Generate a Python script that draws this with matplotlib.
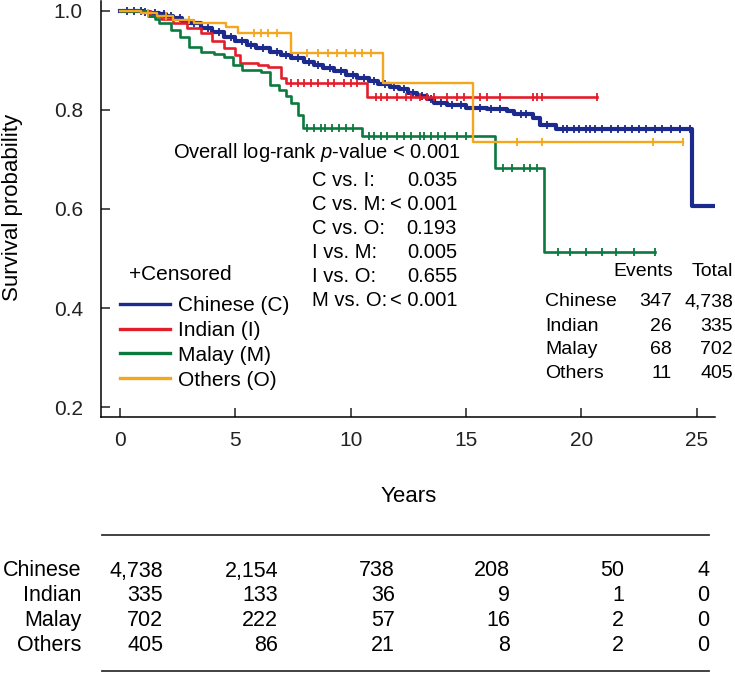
import numpy as np
import matplotlib
matplotlib.use("Agg")
import matplotlib.pyplot as plt
from matplotlib.lines import Line2D

plt.rcParams['font.family'] = ['Liberation Sans', 'DejaVu Sans']
plt.rcParams['mathtext.fontset'] = 'custom'
plt.rcParams['mathtext.rm'] = 'Liberation Sans'
plt.rcParams['mathtext.it'] = 'Liberation Sans:italic'

# Kaplan-Meier step data (years, survival)
times_c = [0, 0.5, 1.0, 1.3, 1.7, 2.0, 2.3, 2.7, 3.0, 3.5, 4.0, 4.5, 5.0, 5.5, 5.9, 6.5, 7.0, 7.4, 8.0, 8.4,
           8.8, 9.3, 9.8, 10.3, 10.8, 11.2, 11.7, 12.1, 12.5, 12.9, 13.3, 13.6, 14.2, 15.0, 15.9, 16.8, 17.1, 17.9, 18.2, 18.9, 24.8]
surv_c = [1.0, 0.999, 0.998, 0.996, 0.993, 0.99, 0.986, 0.98, 0.975, 0.966, 0.957, 0.948, 0.94, 0.932, 0.925, 0.918, 0.911, 0.905, 0.897, 0.891,
          0.885, 0.878, 0.871, 0.865, 0.859, 0.853, 0.847, 0.842, 0.835, 0.828, 0.822, 0.815, 0.81, 0.804, 0.801, 0.798, 0.792, 0.784, 0.77, 0.762, 0.607]
end_c = 25.8
cens_c = [0.3, 0.6, 0.9, 1.1, 1.5, 1.9, 2.2, 2.6, 3.2, 3.8, 4.3, 4.8, 5.3, 5.7, 6.2, 6.8, 7.2, 7.7, 8.2, 8.6, 9.1, 9.6,
          10.1, 10.6, 11.0, 11.5, 11.9, 12.3, 12.7, 13.1, 13.5, 13.9, 14.4, 14.8, 15.3, 15.6, 16.1, 16.5, 17.4, 17.6, 18.5,
          19.2, 19.4, 19.7, 19.9, 20.2, 20.4, 20.6, 20.9, 21.3, 21.6, 21.9, 22.2, 22.5, 22.8, 23.2, 23.5, 23.9, 24.3, 24.7]

times_i = [0, 1.3, 1.8, 2.3, 2.9, 3.5, 4.0, 4.5, 5.0, 5.2, 6.0, 6.4, 7.0, 7.2, 10.7]
surv_i = [1.0, 0.99, 0.983, 0.976, 0.966, 0.956, 0.94, 0.925, 0.91, 0.895, 0.89, 0.887, 0.865, 0.855, 0.827]
end_i = 20.7
cens_i = [7.4, 7.7, 8.0, 8.3, 8.6, 9.0, 9.3, 9.7, 10.0, 10.3, 11.1, 11.3, 11.6, 12.0, 12.4, 12.6, 13.0, 13.3, 13.6,
          14.2, 14.6, 14.9, 15.6, 15.9, 16.5, 17.9, 18.1, 18.3, 20.7]

times_m = [0, 1.2, 1.5, 1.7, 2.2, 2.6, 3.0, 3.5, 4.1, 4.5, 4.9, 5.3, 6.1, 6.5, 6.9, 7.2, 7.4, 7.7, 7.95, 10.5, 16.25, 18.4]
surv_m = [1.0, 0.99, 0.983, 0.976, 0.962, 0.948, 0.928, 0.917, 0.912, 0.907, 0.891, 0.881, 0.877, 0.851, 0.841, 0.828,
          0.815, 0.79, 0.764, 0.748, 0.683, 0.514]
end_m = 23.2
cens_m = [8.1, 8.4, 8.7, 8.9, 9.2, 9.5, 9.8, 10.1, 10.8, 11.0, 11.3, 11.6, 12.0, 12.3, 12.6, 13.0, 13.2, 13.5, 13.8,
          14.1, 14.6, 15.0, 15.3, 16.6, 17.0, 17.5, 17.8, 18.1, 19.0, 19.5, 20.2, 20.9, 21.5, 22.3, 23.2]

times_o = [0, 0.9, 1.6, 2.3, 3.2, 4.6, 5.1, 7.4, 11.4, 15.3]
surv_o = [1.0, 0.995, 0.99, 0.982, 0.975, 0.968, 0.956, 0.915, 0.855, 0.736]
end_o = 24.4
cens_o = [1.2, 2.0, 3.0, 5.8, 6.1, 6.4, 6.8, 8.1, 8.6, 9.0, 9.4, 9.8, 10.2, 10.5, 10.9, 17.2, 18.3, 23.1, 24.4]

groups = ['Chinese', 'Indian', 'Malay', 'Others']
legend_labels = ['Chinese (C)', 'Indian (I)', 'Malay (M)', 'Others (O)']
colors = ['#1b2a8c', '#e31e2a', '#0a7a3e', '#f4a61d']
events = [347, 26, 68, 11]
totals = ['4,738', '335', '702', '405']

risk_years = [0, 5, 10, 15, 20, 25]
at_risk = {
    'Chinese': ['4,738', '2,154', '738', '208', '50', '4'],
    'Indian': ['335', '133', '36', '9', '1', '0'],
    'Malay': ['702', '222', '57', '16', '2', '0'],
    'Others': ['405', '86', '21', '8', '2', '0'],
}

comparisons = ['C vs. I:', 'C vs. M:', 'C vs. O:', 'I vs. M:', 'I vs. O:', 'M vs. O:']
pvals = ['0.035', '< 0.001', '0.193', '0.005', '0.655', '< 0.001']

W, H = 735, 673
fig = plt.figure(figsize=(W / 100, H / 100), dpi=100)
ax = fig.add_axes([101 / W, (H - 417) / H, (715 - 101) / W, 416 / H])


def px(x, y):
    return x / W, 1 - y / H


def ftext(x, y, s, ha='left', size=14.5, **kw):
    fig.text(*px(x, y), s, ha=ha, va='center', fontsize=size, **kw)


curves = [(times_c, surv_c, end_c, cens_c), (times_i, surv_i, end_i, cens_i),
          (times_m, surv_m, end_m, cens_m), (times_o, surv_o, end_o, cens_o)]
lws = [3.0, 1.9, 1.9, 1.7]
# draw Others first so it sits under the rest
for k in [3, 2, 1, 0]:
    t, s, end, cens = curves[k]
    tt = np.array(t + [end])
    ss = np.array(s + [s[-1]])
    ax.step(tt, ss, where='post', color=colors[k], lw=lws[k], zorder=3 + k * 0.1)
    idx = np.searchsorted(np.array(t), np.array(cens), side='right') - 1
    ax.plot(cens, np.array(s)[idx], ls='none', marker='|', ms=6, mew=1.3,
            color=colors[k], zorder=3 + k * 0.1)

ax.set_xlim(-0.82, 25.8)
ax.set_ylim(0.18, 1.02)
ax.set_xticks(risk_years)
ax.set_yticks([0.2, 0.4, 0.6, 0.8, 1.0])
ax.set_yticklabels(['0.2', '0.4', '0.6', '0.8', '1.0'])
for sp in ['top', 'right']:
    ax.spines[sp].set_visible(False)
for sp in ['left', 'bottom']:
    ax.spines[sp].set_linewidth(1.1)
ax.tick_params(direction='in', length=6.5, width=1.1, labelsize=15, colors='#222222')
ax.tick_params(axis='x', pad=10)
ax.tick_params(axis='y', pad=13)

fig.text(*px(13, 207), 'Survival probability', rotation=90, ha='center', va='center', fontsize=16)
ftext(409, 497, 'Years', ha='center', size=16)

# log-rank annotation
ftext(173, 152, 'Overall log-rank $p$-value < 0.001')
for j, (c, p) in enumerate(zip(comparisons, pvals)):
    ftext(312, 181 + 24 * j, c)
    ftext(457, 181 + 24 * j, p, ha='right')

# legend
handles = [Line2D([], [], color=c, lw=2.4) for c in colors]
ftext(129, 274, '+Censored', size=15)
ax.legend(handles, legend_labels, loc='upper left', bbox_to_anchor=px(120, 296),
          bbox_transform=fig.transFigure, frameon=False, fontsize=15,
          handlelength=2.4, handletextpad=0.38, labelspacing=0.28, borderpad=0, borderaxespad=0)

# events table
ftext(673, 272, 'Events', ha='right', size=14)
ftext(733, 272, 'Total', ha='right', size=14)
for j, g in enumerate(groups):
    y = 302 + 24 * j
    ftext(545, y, g, size=14)
    ftext(672, y, str(events[j]), ha='right', size=14)
    ftext(733, y, totals[j], ha='right', size=14)

# numbers at risk
col_right = [163, 278, 395, 510, 624, 709]
fig.add_artist(Line2D([102 / W, 709 / W], [1 - 535 / H] * 2, color='#333333', lw=1.3))
fig.add_artist(Line2D([102 / W, 709 / W], [1 - 671 / H] * 2, color='#333333', lw=1.3))
for j, g in enumerate(groups):
    y = 571 + 24.7 * j
    ftext(81, y, g, ha='right', size=15.5)
    for xr, v in zip(col_right, at_risk[g]):
        ftext(xr, y, v, ha='right', size=15.5)

fig.savefig('out.png', dpi=100)
